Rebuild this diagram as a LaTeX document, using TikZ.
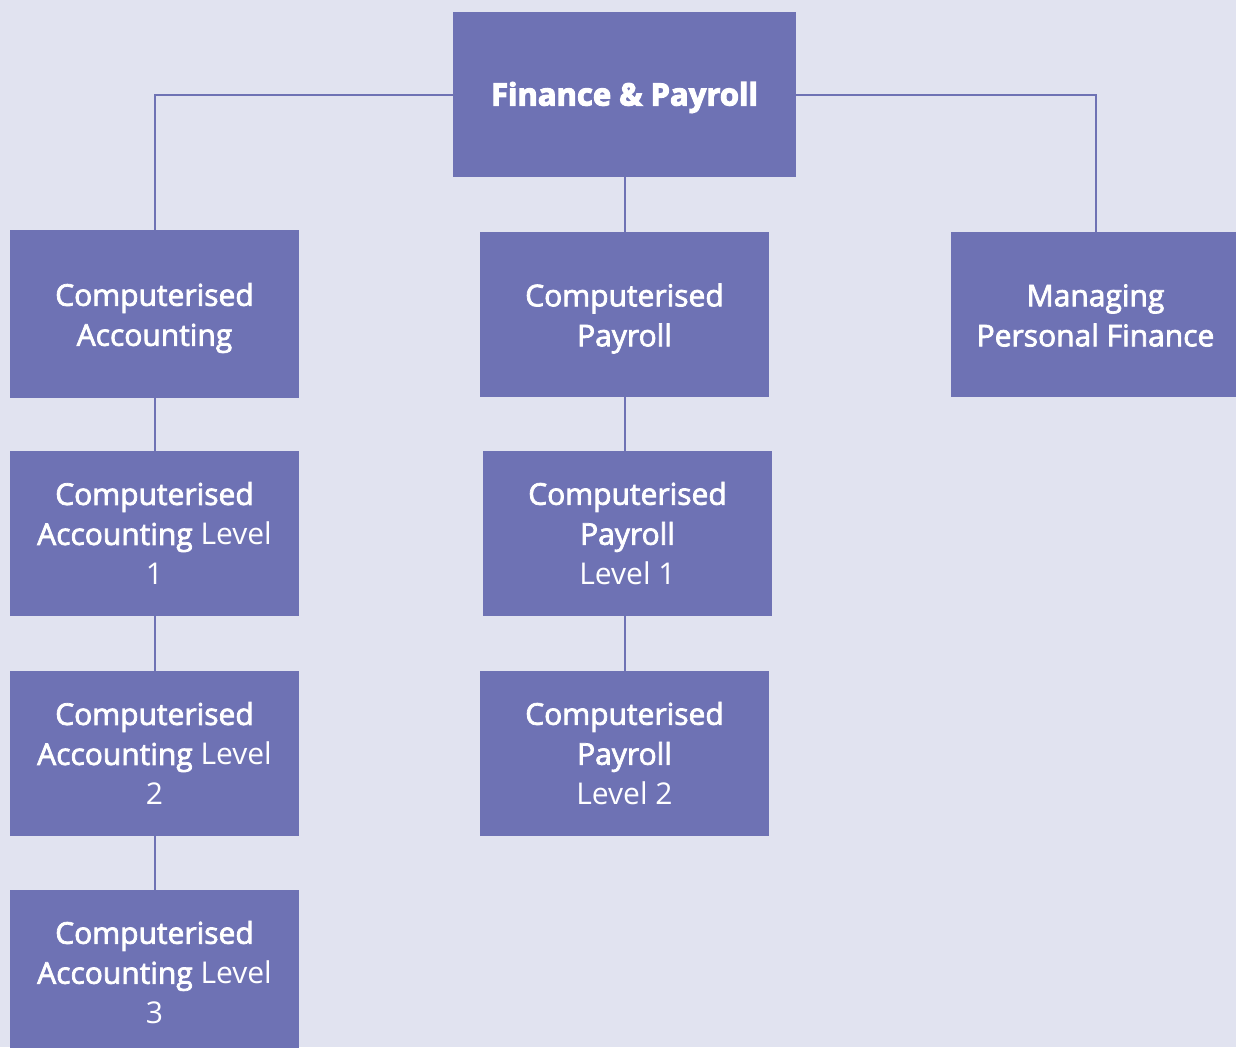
\documentclass[tikz,border=0pt]{standalone}
\usepackage{fontspec}
\setmainfont{Open Sans}
\newfontfamily\semib{Open Sans}[FakeBold=2.5]
\newfontfamily\blackf{Open Sans}[BoldFeatures={FakeBold=3.5}]
\definecolor{bgc}{HTML}{E1E3F0}
\definecolor{boxc}{HTML}{6E72B4}
\begin{document}
\begin{tikzpicture}[x=1pt,y=-1pt,
  box/.style={fill=boxc,draw=none,minimum width=289pt,minimum height=165pt,inner sep=0pt,text=white,align=center,font=\fontsize{30}{40}\selectfont},
  lbl/.style={inner sep=0pt,text=white,align=center,font=\fontsize{30}{40}\selectfont},
  conn/.style={draw=boxc,line width=2pt}]
\fill[bgc] (0,0) rectangle (1236,1047);
\useasboundingbox (0,0) rectangle (1236,1047);
\clip (0,0) rectangle (1236,1047);
\node[box,minimum width=343pt] (top) at (624.5,94.5) {};
\node[lbl,font=\fontsize{31}{40}\selectfont] (topt) at ([yshift=-3pt]top.center) {\blackf\bfseries Finance \& Payroll};
\node[box,minimum height=168pt] (ca) at (154.5,314) {};
\node[lbl] (cat) at ([yshift=-4pt]ca.center) {\semib Computerised\\\semib Accounting};
\node[box] (cp) at (624.5,314.5) {};
\node[lbl] (cpt) at ([yshift=-4pt]cp.center) {\semib Computerised\\\semib Payroll};
\node[box] (mpf) at (1095.5,314.5) {};
\node[lbl] (mpft) at ([yshift=-1pt]mpf.center) {\semib Managing\\\semib Personal Finance};
\node[box] (ca1) at (154.5,533.5) {\semib Computerised\\{\semib Accounting} Level\\1};
\node[box] (cp1) at (627.5,533.5) {\semib Computerised\\\semib Payroll\\Level 1};
\node[box] (ca2) at (154.5,753.5) {\semib Computerised\\{\semib Accounting} Level\\2};
\node[box] (cp2) at (624.5,753.5) {\semib Computerised\\\semib Payroll\\Level 2};
\node[box] (ca3) at (154.5,972.5) {\semib Computerised\\{\semib Accounting} Level\\3};
\draw[conn] (top.west) -| (ca.north);
\draw[conn] (top.east) -| (mpf.north);
\draw[conn] (top.south) -- (cp.north);
\draw[conn] (ca.south) -- (ca1.north);
\draw[conn] (ca1.south) -- (ca2.north);
\draw[conn] (ca2.south) -- (ca3.north);
\draw[conn] (cp.south) -- (cp.south |- cp1.north);
\draw[conn] (cp.south |- cp1.south) -- (cp2.north);
\end{tikzpicture}
\end{document}
